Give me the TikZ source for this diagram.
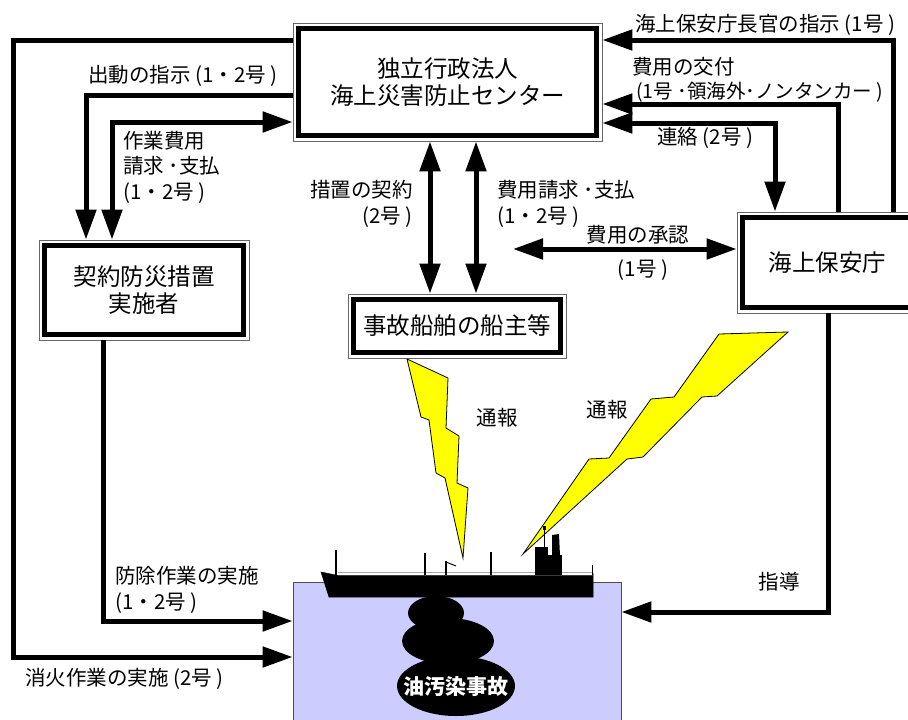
\documentclass[tikz,border=0pt]{standalone}
\usepackage{fontspec}
\setmainfont{Noto Sans CJK JP}
\usetikzlibrary{arrows.meta}
\newcommand\bxfont{\fontsize{23.5}{27.5}\selectfont}
\newcommand\lbfont{\fontsize{20.5}{25.5}\selectfont}
\definecolor{seablue}{RGB}{204,204,255}
\definecolor{boltyellow}{RGB}{255,255,0}
\begin{document}
\begin{tikzpicture}[x=1pt,y=-1pt,
  >={Triangle[length=30pt,width=20pt]},
  conn/.style={line width=5pt,line join=miter},
  box/.style={draw=black!60,line width=0.8pt,fill=white,inner sep=0pt,
    align=center,font=\bxfont,
    path picture={\draw[draw=black,line width=4.5pt,line join=miter]
      ([shift={(5.5pt,-5.5pt)}]path picture bounding box.north west) rectangle
      ([shift={(-5.5pt,5.5pt)}]path picture bounding box.south east);}},
  lbl/.style={font=\lbfont,inner sep=0pt},
  bolt/.style={fill=boltyellow,draw=black,line width=0.8pt,line join=miter},
  hull/.style={fill=black,draw=black,line width=0.5pt}]
\useasboundingbox (0,0) rectangle (908,720);

% sea area
\node[draw=black!70,line width=0.8pt,fill=seablue,minimum width=328,minimum height=150,inner sep=0pt] (sea) at (457,657) {};

% organisations
\node[box,minimum width=309,minimum height=118] (nidc) at (447.5,82) {独立行政法人\\海上災害防止センター};
\node[box,minimum width=210,minimum height=100] (ctr) at (144,290) {契約防災措置\\実施者};
\node[box,minimum width=218,minimum height=64] (own) at (457,326) {事故船舶の船主等};
\node[box,minimum width=181,minimum height=101] (jcg) at (827.5,262.5) {海上保安庁};

% connectors on the left
\draw[conn,->] (nidc.west |- 0,40) -- (13,40) |- (sea.west |- 0,657);
\draw[conn,->] (nidc.west |- 0,95) -| (ctr.north -| 86,0);
\draw[conn,<->] (nidc.west |- 0,122) -| (ctr.north -| 112,0);
\draw[conn,->] (ctr.south -| 103,0) |- (sea.west |- 0,621);

% connectors in the middle
\draw[conn,<->] (nidc.south -| 430,0) -- (own.north -| 430,0);
\draw[conn,<->] (nidc.south -| 476,0) -- (own.north -| 476,0);
\coordinate (apr) at (513,249);
\draw[conn,<->] (apr) -- (jcg.west |- apr);

% connectors on the right
\draw[conn,->] (jcg.north -| 893,0) |- (nidc.east |- 0,40);
\draw[conn,->] (jcg.north -| 838,0) |- (nidc.east |- 0,104);
\draw[conn,<->] (nidc.east |- 0,123) -| (jcg.north -| 775,0);
\draw[conn,->] (jcg.south -| 828,0) |- (sea.east |- 0,612);

% labels
\node[lbl,anchor=west] (l1) at (88,76) {出動の指示 (1・2号 )};
\node[lbl,anchor=west,align=left] (l2) at (123,167) {作業費用\\請求 ･支払\\ (1・2号 )};
\node[lbl,anchor=east,align=right] (l3) at (413,204) {措置の契約\\(2号 )};
\node[lbl,anchor=west,align=left] (l4) at (497,204) {費用請求 ･支払\\ (1・2号 )};
\node[lbl] (l5) at (638,235) {費用の承認};
\node[lbl] (l6) at (643,270) {(1号 )};
\node[lbl,anchor=west] (l7) at (635,25) {海上保安庁長官の指示 (1号 )};
\node[lbl,anchor=west] (l8) at (632,67) {費用の交付};
\node[lbl,anchor=west,font=\fontsize{19.5}{24}\selectfont] (l9) at (636,92) {(1号 ･領海外･ノンタンカー )};
\node[lbl,anchor=west] (l10) at (657,138) {連絡 (2号 )};
\node[lbl,anchor=west,align=left] (l11) at (115,590) {防除作業の実施\\ (1・2号 )};
\node[lbl,anchor=west] (l12) at (25,679) {消火作業の実施 (2号 )};
\node[lbl] (l13) at (779,582) {指導};

% radio reports
\filldraw[bolt] (407,359) -- (448,378) -- (446,428) -- (459,436) -- (457,483) -- (468,488)
  -- (463,558) -- (445,478) -- (436,473) -- (429,420) -- (421,417) -- cycle;
\filldraw[bolt] (788,332) -- (719,334) -- (674,397) -- (651,399) -- (609,458) -- (589,459)
  -- (523,554) -- (627,459) -- (643,457) -- (702,397) -- (717,396) -- cycle;
\node[lbl] (r1) at (497,418) {通報};
\node[lbl] (r2) at (607,410) {通報};

% tanker
\draw[black!35,line width=1pt] (338,572.5) -- (592,572.5);
\filldraw[hull] (321,572) -- (338,575.5) -- (593,575.5) -- (593,573) -- (593,597) -- (329,597) -- cycle;
\draw[line width=1.3pt] (592.7,565) -- (592.7,575);
\draw[line width=1.6pt] (336,550) -- (336,575) (425,553) -- (425,575) (491,552) -- (491,575);
\draw[line width=1.6pt] (446,561) -- (446,575);
\draw[line width=1pt] (446,562) -- (456,566);
\fill (535,547) rectangle (548,575);
\fill (548,555) rectangle (562,575);
\fill (552,535) -- (559,534) -- (560,556) -- (552,556) -- cycle;
\draw[line width=1pt] (544,528) -- (544,547);
\fill (542.5,525.5) rectangle (545.5,530);

% oil slick
\fill (436,613) ellipse [x radius=28,y radius=17];
\fill (448,641) ellipse [x radius=46,y radius=23];
\fill (456,686) ellipse [x radius=59,y radius=30];
\node[font=\fontsize{21}{25}\selectfont\bfseries,text=white,inner sep=0pt] (oil) at (456,687) {油汚染事故};
\end{tikzpicture}
\end{document}
